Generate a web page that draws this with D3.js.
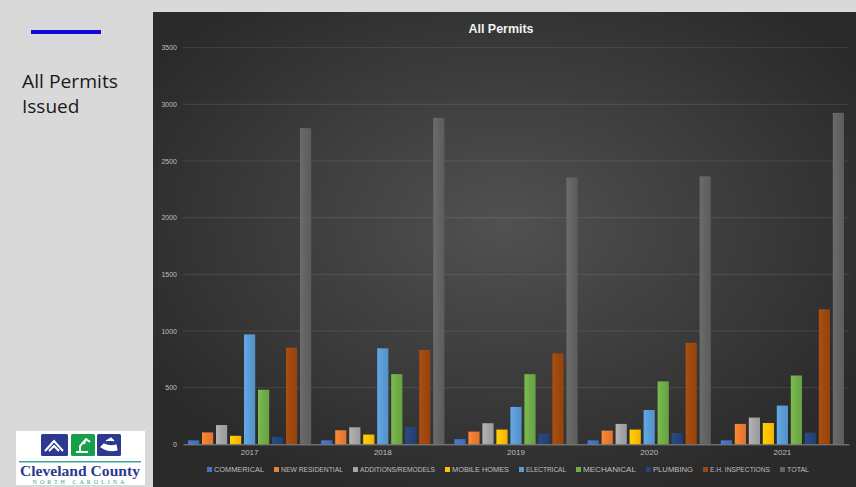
<!DOCTYPE html>
<html><head><meta charset="utf-8">
<script src="https://cdn.jsdelivr.net/npm/d3@7"></script>
<style>
html,body{margin:0;padding:0;background:#d9d9d9;}
svg{display:block;}
</style></head>
<body>
<svg id="c" width="856" height="487"></svg>
<script>
const years = ["2017","2018","2019","2020","2021"];
const seriesNames = ["COMMERICAL","NEW RESIDENTIAL","ADDITIONS/REMODELS","MOBILE HOMES","ELECTRICAL","MECHANICAL","PLUMBING","E.H. INSPECTIONS","TOTAL"];
const commercial   = [35, 35, 45, 35, 35];
const newResidential = [105, 124, 112, 121, 180];
const additions    = [170, 150, 186, 180, 236];
const mobileHomes  = [75, 86, 130, 130, 188];
const electrical   = [970, 847, 330, 303, 342];
const mechanical   = [482, 619, 619, 555, 607];
const plumbing     = [65, 153, 95, 100, 103];
const ehInspections = [853, 832, 803, 896, 1192];
const total        = [2790, 2880, 2355, 2365, 2925];
const yTicks = [0,500,1000,1500,2000,2500,3000,3500];
const colors = ["#4472c4","#ed7d31","#a5a5a5","#ffc000","#5b9bd5","#70ad47","#264478","#9e480e","#636363"];
const seriesValues = [commercial,newResidential,additions,mobileHomes,electrical,mechanical,plumbing,ehInspections,total];

const svg = d3.select("#c");
const defs = svg.append("defs");

const rg = defs.append("radialGradient").attr("id","bg").attr("cx","50%").attr("cy","45%").attr("r","60%");
rg.append("stop").attr("offset","0%").attr("stop-color","#515151");
rg.append("stop").attr("offset","100%").attr("stop-color","#2a2a2a");

colors.forEach((c,i)=>{
  const g = defs.append("linearGradient").attr("id","bar"+i).attr("x1",0).attr("x2",1).attr("y1",0).attr("y2",0);
  g.append("stop").attr("offset","0%").attr("stop-color",d3.color(c).brighter(0.25));
  g.append("stop").attr("offset","50%").attr("stop-color",c);
  g.append("stop").attr("offset","100%").attr("stop-color",d3.color(c).darker(0.2));
});

// ---- left panel ----
svg.append("rect").attr("x",31).attr("y",30).attr("width",70).attr("height",4).attr("fill","#0b0bdc");
const lt = svg.append("text").attr("font-family","'Open Sans',sans-serif").attr("font-size",19).attr("fill","#1a1a1a");
lt.append("tspan").attr("x",22).attr("y",88).attr("textLength",96).attr("lengthAdjust","spacingAndGlyphs").text("All Permits");
lt.append("tspan").attr("x",22).attr("y",113).text("Issued");

// logo
const logo = svg.append("g");
logo.append("rect").attr("x",16).attr("y",431).attr("width",129).attr("height",54).attr("fill","#ffffff");
logo.append("rect").attr("x",41).attr("y",434).attr("width",27).attr("height",22).attr("fill","#2b3990").attr("rx",1.5);
logo.append("rect").attr("x",71).attr("y",434).attr("width",24).attr("height",22).attr("fill","#17a04a").attr("rx",1.5);
logo.append("rect").attr("x",97).attr("y",434).attr("width",24).attr("height",22).attr("fill","#2b3990").attr("rx",1.5);
logo.append("path").attr("d","M45,451 L54,441 L63,451 M49,451 L54,446 L59,451").attr("stroke","#fff").attr("stroke-width",2).attr("fill","none");
logo.append("path").attr("d","M76,452 L88,452 M80,452 L80,446 L86,439 L90,442 M86,439 L84,444").attr("stroke","#fff").attr("stroke-width",2).attr("fill","none");
logo.append("path").attr("d","M101,447 Q108,452 117,450 L116,445 Q110,447 104,444 Z M106,441 L111,438 L114,441").attr("fill","#fff").attr("stroke","#fff").attr("stroke-width",1.2);
logo.append("rect").attr("x",19).attr("y",461).attr("width",122).attr("height",1.5).attr("fill","#3aa59a");
logo.append("text").attr("x",80).attr("y",476).attr("text-anchor","middle").attr("font-family","'Liberation Serif','DejaVu Serif',serif").attr("font-weight","bold").attr("font-size",15).attr("fill","#2b3990").attr("textLength",120).attr("lengthAdjust","spacingAndGlyphs").text("Cleveland County");
logo.append("text").attr("x",80).attr("y",484).attr("text-anchor","middle").attr("font-family","'Liberation Serif',serif").attr("font-size",6).attr("fill","#3aa59a").attr("letter-spacing",3).text("NORTH CAROLINA");

// ---- chart panel ----
svg.append("rect").attr("x",153).attr("y",12).attr("width",703).attr("height",475).attr("fill","url(#bg)");

svg.append("text").attr("x",501).attr("y",33).attr("text-anchor","middle")
  .attr("font-family","'Liberation Sans',sans-serif").attr("font-weight","bold")
  .attr("font-size",12.5).attr("fill","#f2f2f2").attr("textLength",65).attr("lengthAdjust","spacingAndGlyphs").text("All Permits");

const plotL = 183, plotR = 849;
const y = d3.scaleLinear().domain([0,3500]).range([444.3,47.7]);
const x0 = d3.scaleBand().domain(years).range([plotL,plotR]).paddingInner(0).paddingOuter(0);
const x1 = d3.scaleBand().domain(d3.range(seriesNames.length)).range([5,x0.bandwidth()-5]).paddingInner(0.2).paddingOuter(0);

svg.append("g").selectAll("line").data(yTicks.filter(d=>d>0)).join("line")
  .attr("x1",plotL).attr("x2",plotR).attr("y1",d=>y(d)).attr("y2",d=>y(d))
  .attr("stroke","#ffffff").attr("stroke-opacity",0.1).attr("stroke-width",1);

const yAxis = d3.axisLeft(y).tickValues(yTicks).tickFormat(d3.format("d")).tickSize(0).tickPadding(6);
const ya = svg.append("g").attr("transform",`translate(${plotL},0)`).call(yAxis);
ya.select(".domain").remove();
ya.selectAll("text").attr("font-family","'Liberation Sans',sans-serif").attr("font-size",7).attr("fill","#bfbfbf");

const groups = svg.append("g").selectAll("g").data(years).join("g")
  .attr("transform",d=>`translate(${x0(d)},0)`);
groups.selectAll("rect").data((yr,yi)=>seriesValues.map((vals,si)=>({si,v:vals[yi]}))).join("rect")
  .attr("x",d=>x1(d.si)).attr("width",x1.bandwidth())
  .attr("y",d=>y(d.v)).attr("height",d=>y(0)-y(d.v))
  .attr("fill",d=>`url(#bar${d.si})`);

const xAxis = d3.axisBottom(x0).tickSize(0).tickPadding(5);
const xa = svg.append("g").attr("transform",`translate(0,${y(0)})`).call(xAxis);
xa.select(".domain").attr("stroke","#8c8c8c").attr("stroke-width",1);
xa.selectAll("text").attr("font-family","'Liberation Sans',sans-serif").attr("font-size",8).attr("fill","#bfbfbf");

const legendX = [207,274,353,445,519,576,646,703,780];
const legendEnd = 809;
const lg = svg.append("g").selectAll("g").data(seriesNames).join("g")
  .attr("transform",(d,i)=>`translate(${legendX[i]},472)`);
lg.append("rect").attr("x",0).attr("y",-5).attr("width",5).attr("height",5).attr("fill",(d,i)=>colors[i]);
lg.append("text").attr("x",7).attr("y",0).attr("font-family","'Liberation Sans',sans-serif")
  .attr("font-size",7.5).attr("fill","#bfbfbf")
  .attr("textLength",(d,i)=> i<legendX.length-1 ? legendX[i+1]-legendX[i]-17 : legendEnd-legendX[i]-7)
  .attr("lengthAdjust","spacingAndGlyphs").text(d=>d);
</script>
</body></html>
